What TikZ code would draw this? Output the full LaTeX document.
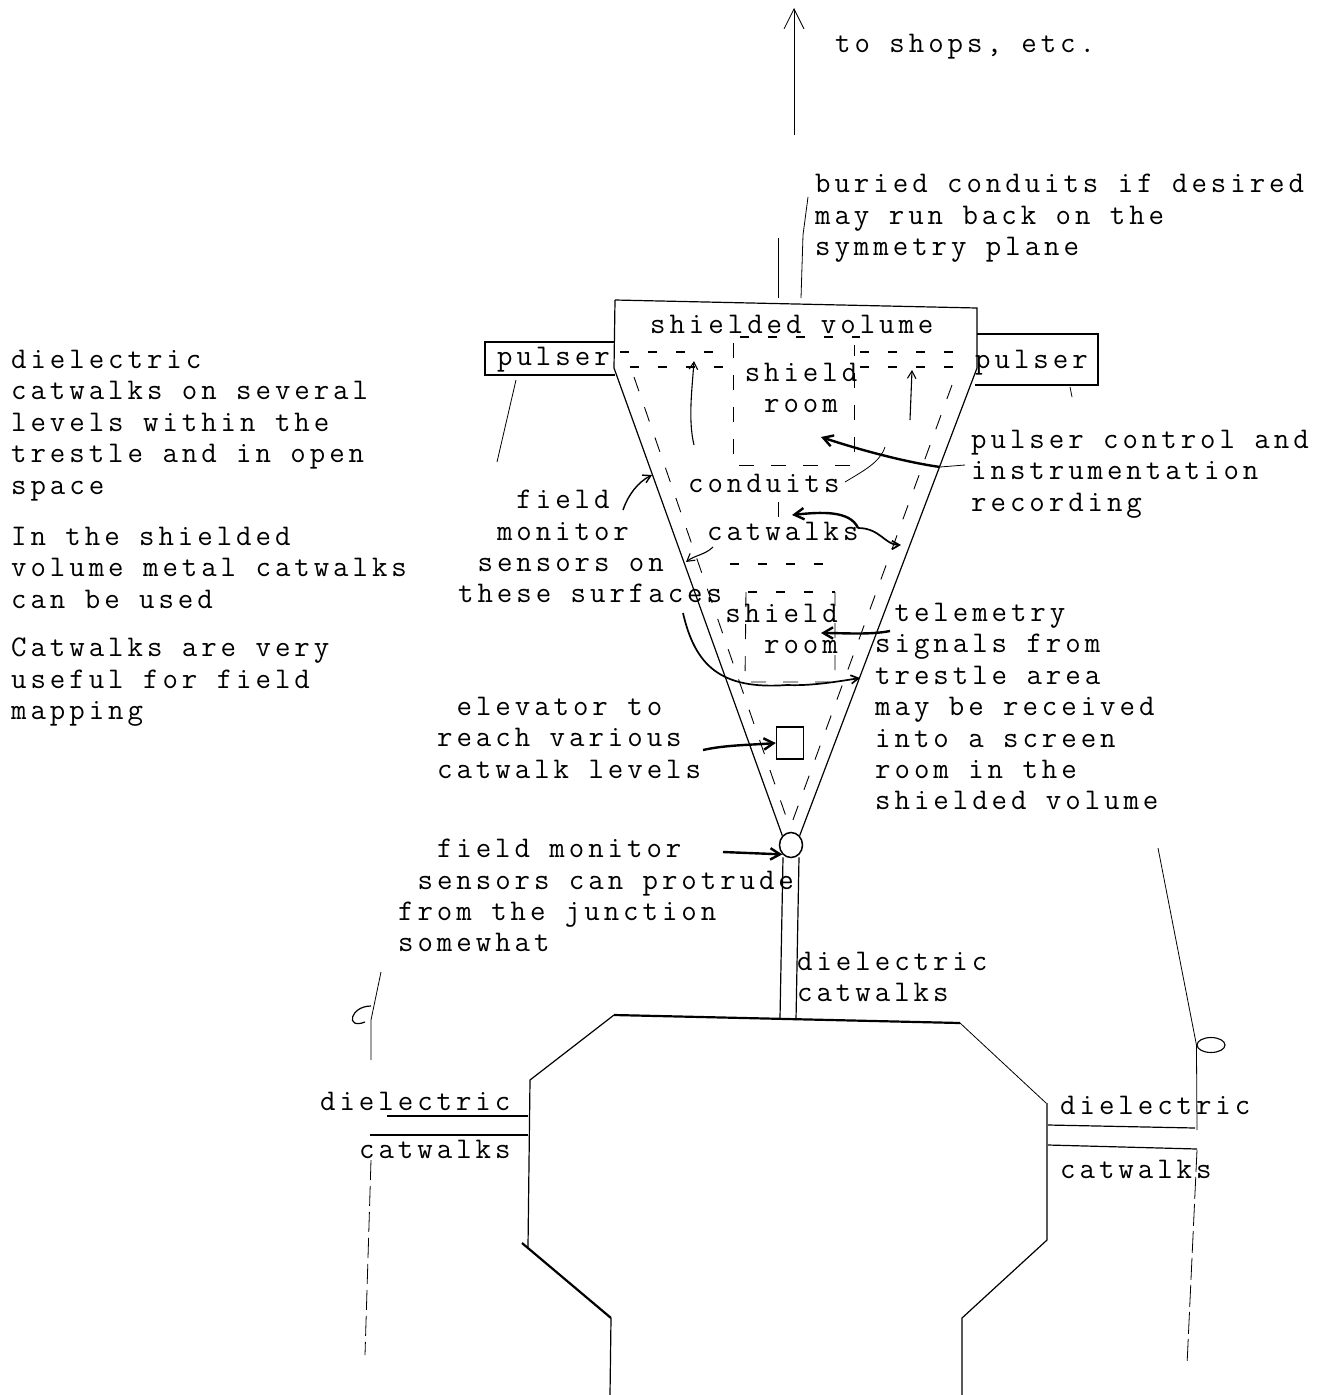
\documentclass[tikz,border=0pt]{standalone}
\usepackage{fontspec}
\newfontfamily\tw[LetterSpace=13.2]{Latin Modern Mono}
\usepackage{tikz}
\usetikzlibrary{positioning,calc,arrows.meta,shapes.geometric}
\tikzset{
  txt/.style={font=\tw\fontsize{30}{31.4}\selectfont,align=left,inner sep=0pt,anchor=north west,text=black,yshift=-4pt},
  wall/.style={draw=black,line width=1.2pt},
  heavy/.style={draw=black,line width=2.2pt},
  thin/.style={draw=black,line width=0.8pt},
  gap/.style={draw=black,line width=0.9pt,dash pattern=on 15pt off 17pt},
  rowgap/.style={draw=black,line width=1.3pt,dash pattern=on 9pt off 19pt},
  hand/.style={-{Straight Barb[length=3.4mm,width=4mm]},draw=black,line width=2.4pt},
  pen/.style={-{Straight Barb[length=2.6mm,width=3mm]},draw=black,line width=1.1pt},
}
\begin{document}
\begin{tikzpicture}[x=1pt,y=-1pt]
\useasboundingbox (0,0) rectangle (1330,1395);

% left column of notes
\node[txt] (notea) at (11,346) {dielectric\\catwalks on several\\levels within the\\trestle and in open\\space};
\node[txt] (noteb) at (11,523) {In the shielded\\volume metal catwalks\\can be used};
\node[txt] (notec) at (11,634) {Catwalks are very\\useful for field\\mapping};

\node[txt] (shops) at (835,30) {to shops, etc.};
\node[txt] (buried) at (815,170) {buried conduits if desired\\may run back on the\\symmetry plane};

% shielded volume labels
\node[txt] (volume) at (650,311) {shielded volume};
\node[txt] (pulsera) at (497,343) {pulser};
\node[txt] (pulserb) at (975,346) {pulser};
\node[txt,align=center,anchor=north] (rooma) at (801,359) {shield\\room};
\node[txt] (control) at (971,426) {pulser control and\\instrumentation\\recording};
\node[txt] (conduits) at (688,470) {conduits};
\node[txt] (monitor) at (458,486) {~~~field\\~~monitor\\~sensors on\\these surfaces};
\node[txt] (catwalks) at (707,518) {catwalks};
\node[txt,align=right,anchor=north east] (roomb) at (838,600) {shield\\room};
\node[txt] (telemetry) at (875,599) {~telemetry\\signals from\\trestle area\\may be received\\into a screen\\room in the\\shielded volume};
\node[txt] (reach) at (437,693) {~elevator to\\reach various\\catwalk levels};
\node[txt] (protrude) at (398,835) {~~field monitor\\~sensors can protrude\\from the junction\\somewhat};
\node[txt] (dielc) at (797,948) {dielectric\\catwalks};
\node[txt] (diela) at (320,1088) {dielectric};
\node[txt] (cata) at (359,1136) {catwalks};
\node[txt] (dielb) at (1060,1092) {dielectric};
\node[txt] (catb) at (1060,1156) {catwalks};

% elevator and junction
\node[draw,line width=1.4pt,minimum width=27pt,minimum height=32pt,inner sep=0pt] (elevator) at (790,743) {};
\node[draw,line width=1.5pt,ellipse,minimum width=23pt,minimum height=25pt,inner sep=0pt] (junction) at (791,845) {};
\node[draw,line width=1.1pt,ellipse,minimum width=28pt,minimum height=15pt,inner sep=0pt] (ring) at (1211,1045) {};

% shielded volume + pulsers
\draw[wall] (615,300) -- (977,308) -- (977,368) -- (junction.north east);
\draw[wall] (615,300) -- (614,368) -- (junction.north west);
\draw[wall] (615,342) -- (485,342) -- (485,375) -- (615,375);
\draw[wall] (977,334) -- (1098,334) -- (1098,385) -- (975,385);
\draw[thin] (516,380) -- (497,462);
\draw[thin] (1070,387) -- (1072,397);

% up arrow + buried conduits
\coordinate (stem) at (794,135);
\coordinate (top) at (794,8);
\draw[-{Straight Barb[length=7mm,width=7mm]},thin] (stem) -- (top);
\draw[thin] (778,238) -- (778,298);
\draw[thin] (801,298) -- (803,235) -- (808,197);

% inner dashes
\draw[gap] (634,377) -- (790,828);
\draw[gap] (952,385) -- (790,828);
\draw[rowgap] (740,337) -- (860,337);
\draw[rowgap] (620,352) -- (725,352);
\draw[rowgap] (630,367) -- (725,367);
\draw[rowgap] (860,352) -- (960,352);
\draw[rowgap] (860,367) -- (955,367);
\draw[gap] (733,343) -- (733,465) -- (854,465) -- (854,345);
\draw[rowgap] (730,564) -- (835,564);
\draw[rowgap] (748,592) -- (835,592);
\draw[gap] (746,592) -- (745,682) -- (835,682) -- (835,592);
\draw[thin] (778,502) -- (778,517);

% hand-drawn arrows
\coordinate (fromcontrol) at (940,467);
\coordinate (toroom) at (821,437);
\draw[hand] (fromcontrol) .. controls (905,462) and (860,450) .. (toroom);
\draw[thin] (fromcontrol) -- (965,465);
\coordinate (splita) at (858,528);
\coordinate (tocore) at (792,515);
\coordinate (toedge) at (901,545);
\draw[hand] (splita) .. controls (850,510) and (820,512) .. (tocore);
\draw[pen,line width=1.7pt] (splita) .. controls (880,528) and (885,545) .. (toedge);
\coordinate (fromcat) at (713,547);
\coordinate (tosurf) at (686,562);
\draw[pen] (fromcat) .. controls (705,555) and (695,555) .. (tosurf);
\coordinate (fromfield) at (623,510);
\coordinate (tosurfb) at (652,475);
\draw[pen,line width=1.4pt] (fromfield) .. controls (628,495) and (638,482) .. (tosurfb);
\coordinate (fromsurf) at (683,613);
\coordinate (totrestle) at (860,678);
\draw[pen,line width=1.7pt] (fromsurf) .. controls (695,665) and (720,690) .. (787,685) .. controls (810,686) and (835,682) .. (totrestle);
\coordinate (fromtel) at (890,631);
\coordinate (toshield) at (821,633);
\draw[hand] (fromtel) .. controls (870,635) and (845,633) .. (toshield);
\coordinate (fromreach) at (703,750);
\draw[hand] (fromreach) .. controls (725,745) and (750,745) .. (elevator.west);
\coordinate (frommon) at (723,852);
\draw[hand] (frommon) -- (junction.south west);
\draw[pen] (694,445) .. controls (688,420) and (692,390) .. (694,361);
\draw[pen] (910,420) -- (912,370);
\draw[thin] (885,447) .. controls (880,462) and (865,470) .. (845,482);

% catwalk to building
\coordinate (legaend) at (780,1018);
\coordinate (legbend) at (796,1020);
\draw[wall] (junction.south) ++(-8,-1) -- (legaend);
\draw[wall] (junction.south) ++(8,-1) -- (legbend);

% building
\draw[heavy] (614,1015) -- (960,1023);
\draw[wall] (614,1015) -- (530,1080) -- (528,1247);
\draw[heavy] (522,1243) -- (611,1318);
\draw[wall] (611,1318) -- (610,1395);
\draw[thin] (960,1023) -- (1046,1103);
\draw[wall] (1047,1103) -- (1047,1240) -- (962,1318) -- (962,1395);

% side catwalks
\draw[wall] (387,1116) -- (528,1116);
\draw[wall] (370,1135) -- (528,1135);
\draw[wall] (1048,1125) -- (1195,1128);
\draw[wall] (1048,1145) -- (1197,1149);
\draw[thin] (1158,848) -- (ring.west);
\draw[thin] (ring.west) -- (1197,1130);
\draw[thin,dash pattern=on 22pt off 5pt] (1197,1150) -- (1187,1365);
\draw[thin] (381,972) -- (371,1020) -- (371,1060);
\draw[thin,dash pattern=on 20pt off 6pt] (371,1160) -- (365,1355);
\draw[wall] (371,1006) .. controls (350,1006) and (345,1030) .. (365,1022);
\end{tikzpicture}
\end{document}
